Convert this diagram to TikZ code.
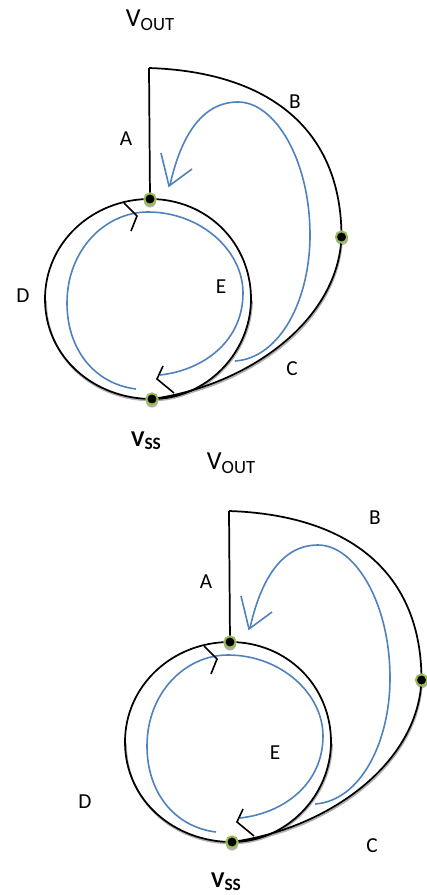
\documentclass[tikz,border=0pt]{standalone}
\usepackage{fontspec}
\setmainfont{Carlito}
\definecolor{loopblue}{HTML}{4F81BD}
\definecolor{dotgreen}{HTML}{9BBB59}
\definecolor{softshadow}{HTML}{B0B0B0}
\newcommand{\voutlabel}{\fontsize{19.5pt}{22pt}\selectfont V\raisebox{-3pt}{\fontsize{14pt}{16pt}\selectfont OUT}}
\newcommand{\vsslabel}{\fontsize{17pt}{20pt}\selectfont\textbf{V}\raisebox{-2pt}{\fontsize{13pt}{15pt}\selectfont\textbf{SS}}}
\tikzset{
  wire/.style={draw=black,line width=1.3pt},
  shadowwire/.style={draw=softshadow,line width=1.3pt},
  loopline/.style={draw=loopblue,line width=1.2pt},
  tick/.style={draw=black,line width=1.2pt},
  junction/.style={circle,fill=black,draw=dotgreen,line width=1.5pt,minimum size=8.5pt,inner sep=0pt},
  dotshadow/.style={circle,fill=softshadow,minimum size=9pt,inner sep=0pt},
  tag/.style={font=\fontsize{16pt}{19pt}\selectfont,inner sep=0pt}
}
% common figure, drawn relative to the origin of the enclosing scope
\newcommand{\branchfigure}{%
  \coordinate (top) at (149,68);
  \node[dotshadow] at (150,201.5) {};
  \node[dotshadow] at (342,239) {};
  \node[dotshadow] at (152,401.5) {};
  % shadows (lower half of the circle and the C wire, slightly offset)
  \draw[shadowwire] (46,300.5) .. controls (46,359.5) and (95,400.5) .. (152,400.5)
     .. controls (207,400.5) and (252,353.5) .. (252,300.5);
  \draw[shadowwire] (342,238.5) .. controls (339,321.5) and (251,386.5) .. (153,400.5);
  \coordinate (na) at (150,199);
  \coordinate (nb) at (341.5,237);
  \coordinate (nc) at (152,399);
  % circle (D + E)
  \draw[wire] (nc) .. controls (95,399) and (45,358) .. (45,299)
     .. controls (45,243) and (92,199) .. (na)
     .. controls (207,199) and (251,243) .. (251,299)
     .. controls (251,352) and (207,399) .. (nc);
  % A
  \draw[wire] (top) -- (na);
  % B
  \draw[wire] (top) .. controls (270,72) and (341.5,130) .. (nb);
  % C
  \draw[wire] (nb) .. controls (338,320) and (250,385) .. (nc);
  % blue loops
  \draw[loopline] (235,361) .. controls (280,358) and (310,300) .. (310,235)
     .. controls (310,160) and (275,102) .. (238,102)
     .. controls (200,102) and (180,140) .. (170,185);
  \draw[loopline] (161,153) -- (169,186) -- (192,169);
  \draw[loopline] (136,389) .. controls (95,384) and (67,350) .. (67,303)
     .. controls (67,250) and (105,212) .. (148,212)
     .. controls (200,212) and (243,250) .. (243,293)
     .. controls (243,340) and (205,370) .. (160,375);
  % black ticks
  \draw[tick] (124,203) -- (137,216) -- (131,231);
  \draw[tick] (163,366) -- (157,379) -- (174,393);
  % dots
  \node[junction] (dota) at (na) {};
  \node[junction] (dotb) at (nb) {};
  \node[junction] (dotc) at (nc) {};
}
\begin{document}
\begin{tikzpicture}[x=0.75pt,y=-0.75pt]
\useasboundingbox (0,0) rectangle (426,895);
\begin{scope}[name prefix=u-]
  \branchfigure
\end{scope}
\begin{scope}[shift={(80,443)},name prefix=l-]
  \branchfigure
\end{scope}
\node (vout1) at (150,20) {\voutlabel};
\node[tag] (a1) at (126,139) {A};
\node[tag] (b1) at (295,102) {B};
\node[tag] (c1) at (292,369) {C};
\node[tag] (d1) at (23,296) {D};
\node[tag] (e1) at (221,287) {E};
\node (vss1) at (146,441) {\vsslabel};
\node (vout2) at (231,463) {\voutlabel};
\node[tag] (a2) at (206,582) {A};
\node[tag] (b2) at (375,518) {B};
\node[tag] (c2) at (372,846) {C};
\node[tag] (d2) at (85,802) {D};
\node[tag] (e2) at (275,753) {E};
\node (vss2) at (226,882) {\vsslabel};
\end{tikzpicture}
\end{document}
